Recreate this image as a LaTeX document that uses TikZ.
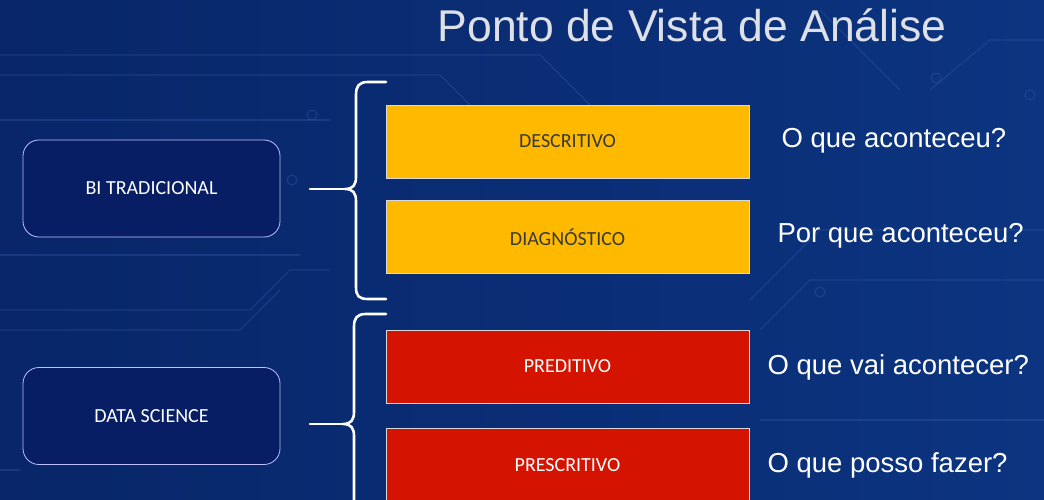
\documentclass[tikz,border=0pt]{standalone}
\usepackage{fontspec}
\setmainfont{Carlito}
\newfontfamily\techfont{Liberation Sans}
\definecolor{bgleft}{RGB}{8,38,105}
\definecolor{bgright}{RGB}{12,52,128}
\definecolor{navybox}{RGB}{8,30,100}
\definecolor{ambar}{RGB}{255,186,0}
\definecolor{vermelho}{RGB}{212,20,0}
\definecolor{tracecol}{RGB}{60,100,180}
\definecolor{titlecol}{RGB}{222,224,232}
\begin{document}
\begin{tikzpicture}[x=1pt,y=-1pt,
  catbox/.style={draw=white!75!blue, fill=navybox, rounded corners=16pt, line width=0.8pt,
    minimum width=257pt, minimum height=97pt, text=white, font=\fontsize{20}{24}\selectfont},
  typebox/.style={draw=white!70!gray, line width=0.6pt, minimum width=363pt, minimum height=73pt,
    font=\fontsize{20}{24}\selectfont},
  yelbox/.style={typebox, fill=ambar, text=black!78},
  redbox/.style={typebox, fill=vermelho, text=white},
  question/.style={anchor=west, text=white, font=\techfont\fontsize{27.5}{32}\selectfont},
  bracestyle/.style={draw=white, line width=2.6pt, line cap=round, line join=round},
  trace/.style={draw=tracecol, line width=1.2pt, opacity=0.3},
  via/.style={draw=tracecol, line width=1.2pt, opacity=0.3}
]
\useasboundingbox (0,0) rectangle (1044,500);
\shade[left color=bgleft, right color=bgright] (0,0) rectangle (1044,500);

% faint circuit traces
\draw[trace] (0,55) -- (540,55) -- (600,115);
\draw[trace] (0,75) -- (440,75) -- (470,105);
\draw[trace] (0,310) -- (250,310) -- (290,270) -- (330,270);
\draw[trace] (0,330) -- (240,330) -- (280,290);
\draw[trace] (0,120) -- (330,120);
\draw[trace] (0,255) -- (300,255);
\draw[trace] (750,300) -- (820,230) -- (1044,230);
\draw[trace] (760,330) -- (810,280) -- (1044,280);
\draw[trace] (930,90) -- (990,40) -- (1044,40);
\draw[trace] (820,10) -- (900,90);
\draw[trace] (760,420) -- (1044,420);
\draw[trace] (0,470) -- (20,470);
\draw[via] (312,115) circle (5);
\draw[via] (292,180) circle (5);
\draw[via] (820,292) circle (5);
\draw[via] (936,78) circle (5);
\draw[via] (1030,95) circle (5);

% title
\node[text=titlecol, font=\techfont\fontsize{44.5}{50}\selectfont] (title) at (692,25) {Ponto de Vista de Análise};

% category boxes
\node[catbox] (bi) at (151.5,188.5) {BI TRADICIONAL};
\node[catbox] (ds) at (151.5,416) {DATA SCIENCE};

% analysis type boxes
\node[yelbox] (desc) at (567.5,141.5) {DESCRITIVO};
\node[yelbox] (diag) at (567.5,237) {DIAGNÓSTICO};
\node[redbox] (pred) at (567.5,366.5) {PREDITIVO};
\node[redbox] (presc) at (567.5,465) {PRESCRITIVO};

% braces
\coordinate (tipA) at (310,189);
\coordinate (tipB) at (310,424);
\draw[bracestyle] (386,82) -- (368,82) .. controls (359,82) and (356,86) .. (356,95)
  -- (356,177) .. controls (356,185) and (353,189) .. (345,189)
  .. controls (353,189) and (356,193) .. (356,201)
  -- (356,287) .. controls (356,296) and (359,299) .. (368,299) -- (386,299);
\draw[bracestyle] (tipA) -- (345,189);
\draw[bracestyle] (386,314) -- (366,314) .. controls (357,314) and (354,318) .. (354,327)
  -- (354,412) .. controls (354,420) and (351,424) .. (343,424)
  .. controls (351,424) and (354,428) .. (354,436)
  -- (354,510);
\draw[bracestyle] (tipB) -- (343,424);

% questions
\node[question] (q1) at (778,141) {O que aconteceu?};
\node[question] (q2) at (774,236) {Por que aconteceu?};
\node[question] (q3) at (764,367) {O que vai acontecer?};
\node[question] (q4) at (764,465) {O que posso fazer?};
\end{tikzpicture}
\end{document}
